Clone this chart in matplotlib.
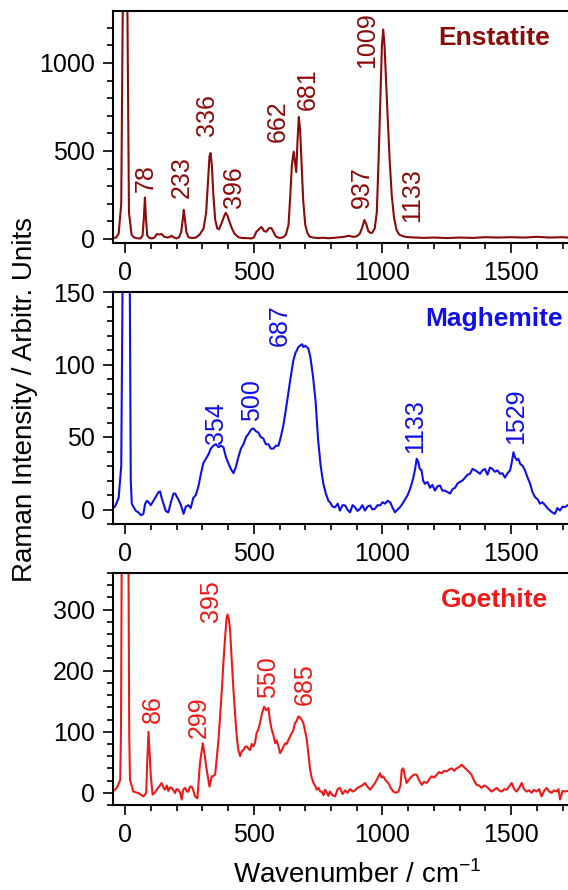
import matplotlib
matplotlib.use("Agg")
import matplotlib.pyplot as plt
from matplotlib.ticker import MultipleLocator

plt.rcParams['font.family'] = ['Liberation Sans', 'DejaVu Sans']
plt.rcParams['mathtext.fontset'] = 'custom'
plt.rcParams['mathtext.rm'] = 'Liberation Sans'

#-------------Enstatite-----------------------------------
ens_cm = [-50, -35, -25, -15, -8, -3, 3, 8, 15, 25, 35, 50, 60, 68, 73, 77, 81, 86, 95, 105,
          115, 123, 132, 142, 152, 165, 175, 181, 190, 200, 210, 218, 224, 228, 232, 238, 246, 260, 275, 290,
          305, 315, 322, 328, 332, 337, 343, 350, 358, 365, 375, 385, 391, 397, 405, 415, 425, 440, 455, 470,
          490, 500, 510, 520, 530, 540, 549, 558, 568, 575, 585, 600, 615, 625, 635, 642, 648, 655, 660, 665,
          670, 675, 680, 686, 692, 700, 708, 717, 730, 750, 770, 790, 810, 830, 850, 870, 885, 900, 912, 920,
          930, 938, 945, 952, 960, 970, 978, 985, 992, 998, 1003, 1008, 1014, 1020, 1028, 1036, 1045, 1055, 1065, 1080,
          1100, 1130, 1160, 1200, 1250, 1300, 1350, 1400, 1450, 1500, 1550, 1600, 1650, 1700, 1720]
ens_int = [3, 8, 30, 200, 1500, 5000, 5000, 1500, 150, 25, 8, 3, 3, 20, 120, 235, 120, 20, 5, 3,
           8, 28, 25, 28, 12, 8, 12, 18, 8, 3, 10, 40, 110, 165, 120, 40, 10, 5, 8, 25,
           60, 150, 320, 470, 488, 420, 250, 110, 60, 55, 90, 130, 148, 135, 100, 60, 30, 10, 5, 5,
           3, 8, 40, 55, 68, 45, 41, 60, 62, 45, 15, 5, 10, 25, 80, 250, 420, 496, 440, 380,
           560, 693, 620, 420, 220, 80, 35, 13, 8, 5, 7, 4, 6, 9, 12, 18, 12, 15, 30, 60,
           108, 80, 45, 35, 35, 60, 150, 450, 800, 1100, 1190, 1100, 900, 700, 450, 250, 120, 50, 25, 15,
           10, 8, 6, 8, 5, 8, 6, 10, 8, 10, 8, 12, 8, 10, 8]

#-------------Maghemite---------------
mag_cm = [-50, -39, -25, -15, -8, -3, 5, 12, 17, 22, 26, 32, 42, 52, 62, 71, 78, 85, 91, 100,
          110, 120, 130, 136, 142, 149, 158, 168, 178, 188, 195, 200, 207, 217, 227, 236, 246, 255, 265, 275,
          285, 295, 304, 314, 324, 333, 343, 353, 363, 372, 382, 392, 401, 411, 421, 430, 440, 450, 460, 470,
          479, 489, 498, 508, 518, 527, 537, 547, 557, 566, 576, 586, 596, 605, 615, 624, 634, 644, 654, 662,
          668, 673, 680, 688, 693, 700, 712, 720, 730, 740, 750, 760, 770, 780, 790, 796, 806, 816, 826, 835,
          845, 855, 864, 874, 884, 893, 903, 913, 922, 932, 942, 952, 961, 971, 981, 991, 1000, 1010, 1020, 1030,
          1040, 1049, 1059, 1068, 1078, 1088, 1098, 1107, 1114, 1120, 1127, 1133, 1139, 1145, 1152, 1158, 1165, 1175, 1185, 1194,
          1204, 1214, 1224, 1233, 1243, 1253, 1263, 1272, 1282, 1292, 1301, 1311, 1321, 1331, 1340, 1350, 1360, 1369, 1379, 1389,
          1398, 1408, 1418, 1427, 1437, 1447, 1457, 1466, 1476, 1486, 1496, 1503, 1509, 1515, 1522, 1528, 1535, 1545, 1554, 1564,
          1574, 1583, 1593, 1603, 1612, 1622, 1632, 1641, 1651, 1660, 1670, 1680, 1690, 1700, 1709, 1720]
mag_int = [1, 2, 8, 30, 200, 600, 800, 600, 200, 20, 4, 2, -1, -2, -4, -3, 4, 6, 5, 3,
           6, 9, 12, 12.5, 8, 4, -1, -2, 5, 11, 11, 9, 7, 3, -3, 2, 3, 1, 8, 10,
           16, 25, 32, 35, 38, 42, 44, 45, 43, 44, 43, 36, 32, 28, 25, 29, 36, 42, 45, 50,
           52, 55, 56, 54, 53, 50, 49, 45, 45, 42, 42, 44, 44, 50, 58, 68, 80, 92, 103, 108,
           110, 112, 113, 114, 112, 113, 111, 105, 92, 75, 48, 30, 18, 11, 6, 5, 2, 1.6, 4, -0.7,
           3, 2.8, 0, -2, 3, 1.6, -1, 0.5, 3, -0.7, 2, 2.8, 0, 0.5, 3, 2.8, 5, 4, 6, 5,
           1, -2, 0, 1.6, 4, 7, 10, 14, 18, 22, 28, 35, 33, 28, 27, 20, 17.7, 19, 15, 17,
           13, 16, 16.5, 13, 13, 12, 11, 14, 15, 18, 19, 20, 22, 24, 24.6, 28, 27, 26, 24.6, 27,
           28, 24, 29, 28, 26, 27, 24.6, 25, 22, 25, 27, 33, 39.5, 36, 34, 35, 31.5, 30, 27, 22,
           17.7, 12, 8.5, 7, 4, 5, 3, 1, -0.7, -2, -3, 1, -0.7, 2, 1.6, 3]

#-------------Goethite---------------
goe_cm = [-50, -39, -30, -19, -16, -11, 0, 11, 16, 19, 32, 52, 71, 82, 86, 91, 96, 100, 107, 115,
          123, 132, 142, 150, 155, 162, 168, 175, 181, 188, 194, 200, 207, 214, 220, 226, 233, 240, 246, 252,
          259, 265, 272, 281, 291, 302, 310, 315, 322, 328, 333, 337, 345, 350, 357, 363, 370, 376, 383, 388,
          394, 398, 403, 408, 414, 421, 428, 434, 440, 447, 453, 460, 466, 473, 480, 486, 492, 498, 505, 511,
          518, 524, 532, 540, 548, 557, 563, 570, 576, 583, 589, 596, 602, 609, 615, 622, 628, 635, 641, 648,
          654, 660, 667, 673, 678, 683, 688, 693, 700, 706, 712, 719, 725, 732, 738, 745, 752, 758, 764, 771,
          777, 784, 790, 796, 806, 816, 826, 835, 845, 855, 864, 874, 884, 893, 903, 913, 922, 932, 942, 952,
          961, 971, 981, 991, 997, 1003, 1013, 1023, 1032, 1042, 1052, 1062, 1070, 1075, 1081, 1087, 1094, 1104, 1114, 1124,
          1133, 1143, 1153, 1162, 1172, 1182, 1191, 1201, 1211, 1220, 1230, 1240, 1250, 1259, 1269, 1279, 1288, 1298, 1308, 1317,
          1327, 1337, 1346, 1356, 1366, 1375, 1385, 1395, 1405, 1414, 1424, 1434, 1444, 1453, 1463, 1473, 1483, 1492, 1502, 1512,
          1521, 1531, 1541, 1550, 1560, 1570, 1580, 1589, 1599, 1609, 1618, 1628, 1638, 1648, 1657, 1667, 1677, 1684, 1690, 1700,
          1709, 1720]
goe_int = [2, 5, 10, 21, 100, 600, 3000, 600, 100, 21, 2, -0.5, -6, 0, 50, 100, 60, 27, -3, 0,
           5, 10, 16, 8, 5, 12, 3, 9, 8, 4, -0.5, 6, 5, 0, -11, 5, 8, 2, 2, 10,
           10, 4, -6, -9, 49, 81, 60, 43, 25, 10, 20, 27, 28, 30, 60, 87, 130, 169, 220, 251,
           285, 292, 285, 267, 220, 169, 125, 92, 70, 60, 68, 70, 75, 76, 72, 70, 80, 76, 82, 98,
           104, 114, 130, 141, 135, 139, 118, 103, 95, 81, 86, 76, 65, 70, 75, 81, 80, 87, 92, 98,
           103, 114, 118, 125, 124, 122, 118, 114, 100, 87, 65, 38, 25, 16, 12, 5, 8, 2, 2, -4,
           5, 0, -5, 2, -4, -6, 6, 8, -2, 4, 0, 6, 2, 4, 8, 10, 12, 16, 10, 5,
           10, 16, 24, 32, 25, 27, 20, 16, 8, 2, 0, 2, 12, 38, 40, 28, 16, 22, 27, 30,
           29.5, 20, 13, 18, 16, 22, 27, 25, 29.5, 34, 32, 36, 35, 38, 40, 36, 40, 42, 46, 42,
           38, 34, 29.5, 20, 13, 12, 8, 12, 10, 6, 2, 5, 8, 4, 2, 6, 5, 10, 16, 6,
           2, 8, 16, 6, 2, 4, 0, 5, 2, 6, -6, 3, 8, 2, 0, 4, 2, 6, -11, 3,
           2, 3]

#-------------Peak labels---------------
ens_pk = [78, 233, 336, 396, 662, 681, 937, 1009, 1133]
ens_pk_x = [82, 222, 320, 423, 595, 711, 921, 940, 1115]
ens_pk_y = [267, 233, 585, 176, 551, 733, 176, 972, 97]

mag_pk = [354, 500, 687, 1133, 1529]
mag_pk_x = [352, 495, 602, 1127, 1519]
mag_pk_y = [45, 61, 113, 39, 45]

goe_pk = [86, 299, 395, 550, 685]
goe_pk_x = [107, 287, 334, 556, 699]
goe_pk_y = [115, 90, 280, 156, 144]

#-------------Graficas-------------------
fig = plt.figure(figsize=(5.68, 8.9), dpi=100)
left = 113 / 568
width = 1 - left
h = 232 / 890

panels = [
    (ens_cm, ens_int, ens_pk, ens_pk_x, ens_pk_y, '#8b0a0a', 'Enstatite', (890 - 243) / 890, (-23, 1295), 500, 100),
    (mag_cm, mag_int, mag_pk, mag_pk_x, mag_pk_y, '#1010e6', 'Maghemite', (890 - 524) / 890, (-10, 150), 50, 10),
    (goe_cm, goe_int, goe_pk, goe_pk_x, goe_pk_y, '#ee1a1a', 'Goethite', (890 - 805) / 890, (-20, 360), 100, 20),
]

for cm, inten, pk, pkx, pky, col, name, bottom, ylim, major, minor in panels:
    ax = fig.add_axes([left, bottom, width, h])
    ax.plot(cm, inten, color=col, lw=1.5)
    ax.set_xlim(-47, 1721)
    ax.set_ylim(*ylim)
    ax.xaxis.set_major_locator(MultipleLocator(500))
    ax.xaxis.set_minor_locator(MultipleLocator(100))
    ax.yaxis.set_major_locator(MultipleLocator(major))
    ax.yaxis.set_minor_locator(MultipleLocator(minor))
    ax.tick_params(which='major', direction='out', length=7, width=1.2, labelsize=18, pad=6)
    ax.tick_params(which='minor', direction='out', length=4, width=1.2)
    ax.tick_params(axis='x', pad=6)
    ax.spines['right'].set_visible(False)
    for s in ['left', 'bottom', 'top']:
        ax.spines[s].set_linewidth(1.5)
    for lab, x, y in zip(pk, pkx, pky):
        ax.text(x, y, str(lab), rotation=90, ha='center', va='bottom', fontsize=18, color=col)
    ax.text(0.838, 0.853, name, transform=ax.transAxes, ha='center', va='baseline',
            fontsize=19, fontweight='bold', color=col)

fig.text(25 / 568, 1 - 399 / 890, 'Raman Intensity / Arbitr. Units', rotation=90,
         ha='center', va='center', fontsize=20)
fig.text(357 / 568, 1 - 875 / 890, r'Wavenumber / cm$^{-1}$', ha='center', va='center', fontsize=20)

fig.savefig('out.png', dpi=100)
